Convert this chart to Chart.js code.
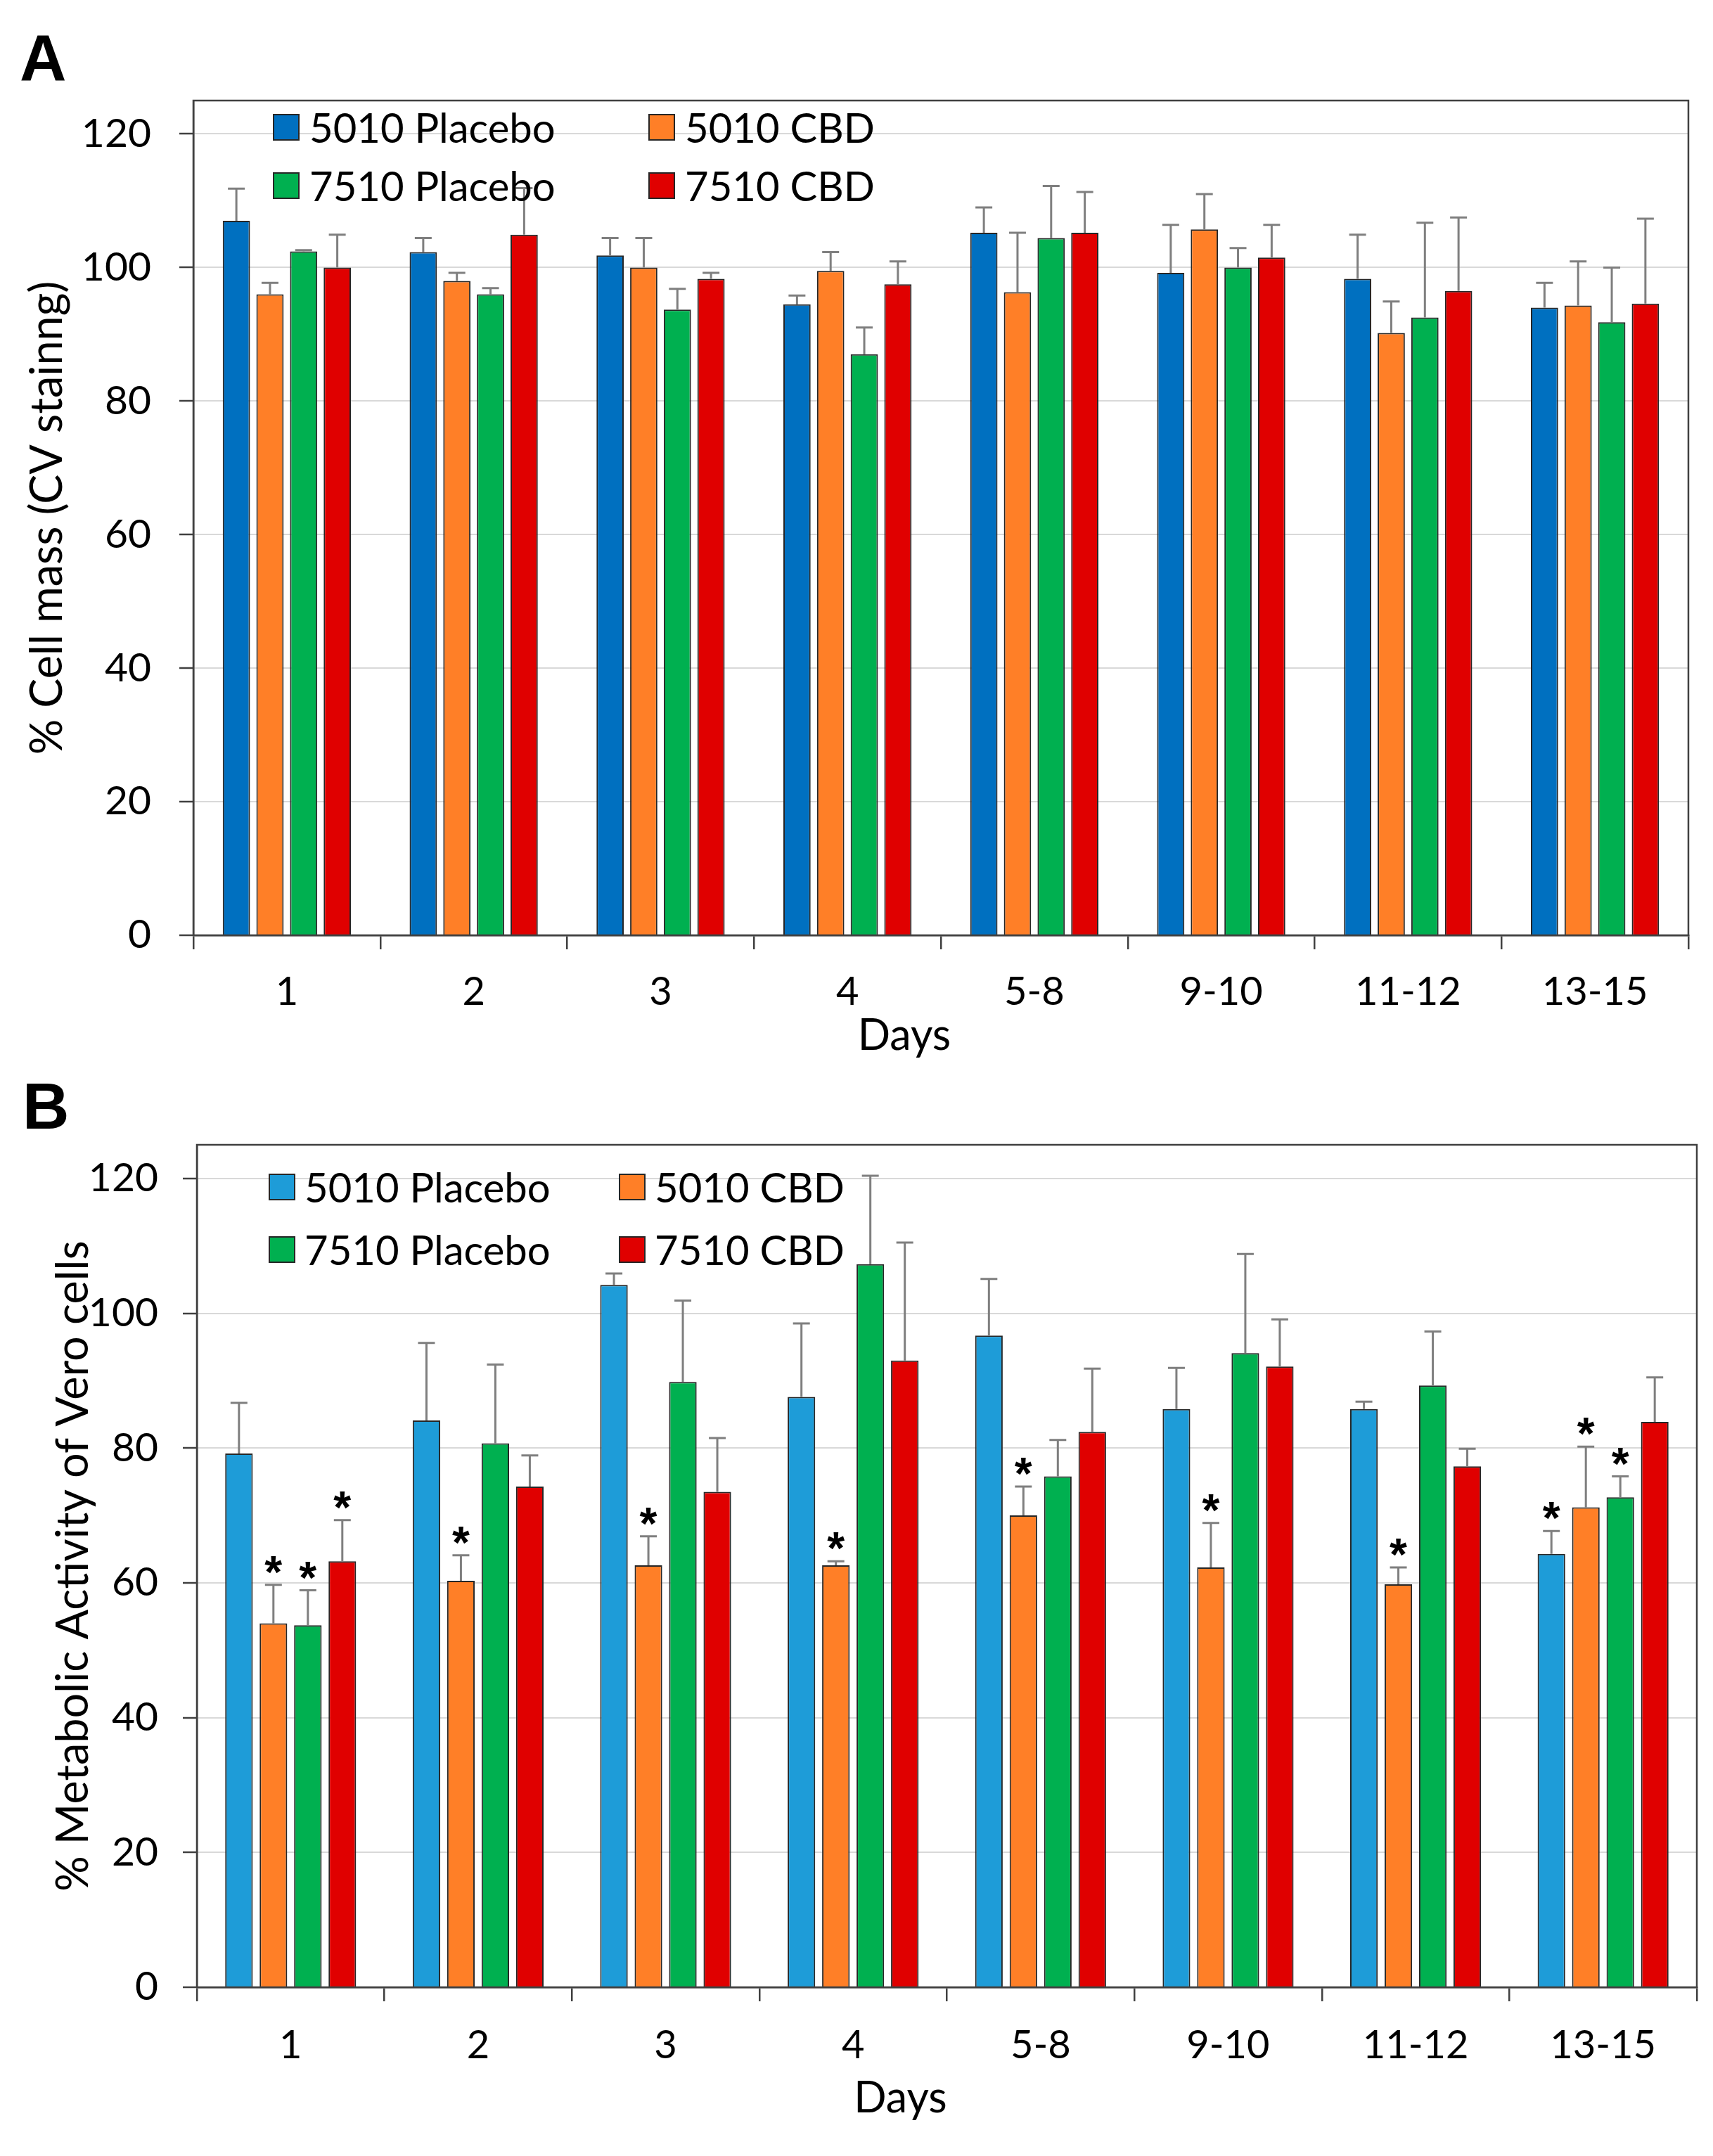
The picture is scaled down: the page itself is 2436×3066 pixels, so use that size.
<!DOCTYPE html>
<html>
<head>
<meta charset="utf-8">
<script src="https://cdn.jsdelivr.net/npm/chart.js@4.4.1/dist/chart.umd.min.js"></script>
<style>
  html, body { margin: 0; padding: 0; background: #fff; }
  body { width: 2436px; height: 3066px; position: relative; overflow: hidden; }
  .panel { position: absolute; left: 0; width: 2436px; }
  #panelA { top: 0; height: 1540px; }
  #panelB { top: 1540px; height: 1526px; }
  .letter { position: absolute; font: bold 92px "Liberation Sans", Arial, sans-serif; line-height: 92px; color: #000; z-index: 2; }
</style>
</head>
<body>
<div class="letter" style="left:28px; top:36px;">A</div>
<div class="letter" style="left:32px; top:1527px;">B</div>
<div class="panel" id="panelA"><canvas id="chartA"></canvas></div>
<div class="panel" id="panelB"><canvas id="chartB"></canvas></div>
<script>
// categories and legend labels
const days = ['1', '2', '3', '4', '5-8', '9-10', '11-12', '13-15'];
const seriesNames = ['5010 Placebo', '5010 CBD', '7510 Placebo', '7510 CBD'];

// panel A: % cell mass (CV staining), mean and upper error
const massPlacebo5010 = [107.0, 102.3, 101.8, 94.5, 105.2, 99.2, 98.3, 94.0];
const massPlacebo5010Err = [4.8, 2.1, 2.6, 1.3, 3.8, 7.2, 6.6, 3.7];
const massCBD5010 = [96.0, 98.0, 100.0, 99.5, 96.3, 105.7, 90.2, 94.3];
const massCBD5010Err = [1.7, 1.2, 4.4, 2.8, 8.9, 5.3, 4.7, 6.6];
const massPlacebo7510 = [102.4, 96.0, 93.7, 87.0, 104.4, 100.0, 92.5, 91.8];
const massPlacebo7510Err = [0.2, 0.9, 3.1, 4.0, 7.8, 2.9, 14.2, 8.2];
const massCBD7510 = [100.0, 104.9, 98.3, 97.5, 105.2, 101.5, 96.5, 94.6];
const massCBD7510Err = [4.9, 7.0, 0.9, 3.4, 6.1, 4.9, 11.0, 12.7];

// panel B: % metabolic activity of Vero cells
const metPlacebo5010 = [79.2, 84.1, 104.2, 87.6, 96.7, 85.8, 85.8, 64.3];
const metPlacebo5010Err = [7.5, 11.5, 1.7, 10.9, 8.4, 6.1, 1.1, 3.4];
const metCBD5010 = [54.0, 60.3, 62.6, 62.6, 70.0, 62.3, 59.8, 71.2];
const metCBD5010Err = [5.7, 3.8, 4.3, 0.6, 4.3, 6.6, 2.5, 9.0];
const metPlacebo7510 = [53.7, 80.7, 89.8, 107.3, 75.8, 94.1, 89.3, 72.7];
const metPlacebo7510Err = [5.2, 11.7, 12.1, 13.1, 5.4, 14.7, 8.0, 3.1];
const metCBD7510 = [63.2, 74.3, 73.5, 93.0, 82.4, 92.1, 77.3, 83.9];
const metCBD7510Err = [6.1, 4.6, 8.0, 17.5, 9.4, 7.0, 2.6, 6.6];

// significance marks (*) in panel B
const sigPlacebo5010 = [0, 0, 0, 0, 0, 0, 0, 1];
const sigCBD5010 = [1, 1, 1, 1, 1, 1, 1, 1];
const sigPlacebo7510 = [1, 0, 0, 0, 0, 0, 0, 1];
const sigCBD7510 = [1, 0, 0, 0, 0, 0, 0, 0];

const yTicks = [0, 20, 40, 60, 80, 100, 120];

Chart.defaults.font.family = 'Lato';
Chart.defaults.color = '#000';

const AXIS = '#404040';
const EDGE = '#262626';

// error bars + asterisks on top of the bars
const errorBars = {
    id: 'errorBars',
    afterDatasetsDraw(chart) {
        const ctx = chart.ctx;
        const y = chart.scales.y;
        ctx.save();
        chart.data.datasets.forEach((ds, i) => {
            const meta = chart.getDatasetMeta(i);
            meta.data.forEach((bar, j) => {
                const top = y.getPixelForValue(ds.data[j] + ds.errors[j]);
                ctx.strokeStyle = '#7F7F7F';
                ctx.lineWidth = 3;
                ctx.beginPath();
                ctx.moveTo(bar.x, bar.y);
                ctx.lineTo(bar.x, top);
                ctx.moveTo(bar.x - 12, top);
                ctx.lineTo(bar.x + 12, top);
                ctx.stroke();
                if (ds.sig && ds.sig[j]) {
                    ctx.fillStyle = '#000';
                    ctx.font = 'bold 64px "Liberation Sans"';
                    ctx.textAlign = 'center';
                    ctx.textBaseline = 'alphabetic';
                    ctx.fillText('*', bar.x, top + 4);
                }
            });
        });
        ctx.restore();
    }
};

// plot frame, the two-column legend inside the plot and the x title
const frameLegend = {
    id: 'frameLegend',
    afterDraw(chart, args, opts) {
        const ctx = chart.ctx;
        const a = chart.chartArea;
        ctx.save();
        ctx.strokeStyle = AXIS;
        ctx.lineWidth = 2.5;
        ctx.strokeRect(a.left, a.top, a.right - a.left, a.bottom - a.top);

        ctx.font = '58px Lato';
        ctx.textBaseline = 'middle';
        ctx.textAlign = 'left';
        chart.data.datasets.forEach((ds, i) => {
            const col = i % 2, row = Math.floor(i / 2);
            const mx = a.left + opts.cols[col];
            const my = a.top + opts.rows[row];
            ctx.fillStyle = ds.backgroundColor;
            ctx.fillRect(mx, my - 18, 36, 36);
            ctx.strokeStyle = EDGE;
            ctx.lineWidth = 2;
            ctx.strokeRect(mx, my - 18, 36, 36);
            ctx.fillStyle = '#000';
            ctx.fillText(ds.label, mx + opts.gap, my + 3);
        });

        // "Days" sits a little left of the plot centre, as in the original figure
        ctx.font = '61px Lato';
        ctx.textAlign = 'center';
        ctx.fillText('Days', (a.left + a.right) / 2 + opts.daysDx, a.bottom + opts.daysDy);
        ctx.restore();
    }
};

function makeChart(id, cfg) {
    const datasets = cfg.values.map((vals, i) => ({
        label: seriesNames[i],
        data: vals,
        errors: cfg.errors[i],
        sig: cfg.sig ? cfg.sig[i] : null,
        backgroundColor: cfg.colors[i],
        borderColor: EDGE,
        borderWidth: 2,
        categoryPercentage: cfg.catPct,
        barPercentage: cfg.barPct
    }));

    return new Chart(document.getElementById(id), {
        type: 'bar',
        data: { labels: days, datasets: datasets },
        options: {
            responsive: true,
            maintainAspectRatio: false,
            devicePixelRatio: 1,
            animation: false,
            layout: { padding: cfg.padding },
            plugins: {
                legend: { display: false },
                tooltip: { enabled: false },
                frameLegend: cfg.legend
            },
            scales: {
                x: {
                    afterFit: s => { s.height = 200; },
                    grid: {
                        display: true, drawOnChartArea: false, offset: true,
                        tickLength: 20, tickColor: AXIS, tickWidth: 2.5,
                        color: AXIS, lineWidth: 2.5
                    },
                    border: { color: AXIS, width: 2.5 },
                    ticks: { padding: cfg.xTickPad, color: '#000', font: { size: 56 } },
                    title: { display: false }
                },
                y: {
                    min: 0,
                    max: 125,
                    afterFit: s => { s.width = cfg.yWidth; },
                    afterBuildTicks: s => { s.ticks = yTicks.map(v => ({ value: v })); },
                    grid: { color: '#D9D9D9', lineWidth: 2, tickLength: 20, tickColor: AXIS, tickWidth: 2.5 },
                    border: { color: AXIS, width: 2.5 },
                    ticks: { padding: cfg.yTickPad, color: '#000', font: { size: 57 } },
                    title: {
                        display: true, text: cfg.yTitle, color: '#000',
                        font: { size: 63 }, padding: { top: cfg.yTitlePad, bottom: 0 }
                    }
                }
            }
        },
        plugins: [errorBars, frameLegend]
    });
}

makeChart('chartA', {
    values: [massPlacebo5010, massCBD5010, massPlacebo7510, massCBD7510],
    errors: [massPlacebo5010Err, massCBD5010Err, massPlacebo7510Err, massCBD7510Err],
    colors: ['#0070C0', '#FF7F27', '#00B050', '#E00000'],
    catPct: 0.72, barPct: 0.81,
    padding: { left: 0, top: 143, right: 35, bottom: 10 },
    yWidth: 275, yTickPad: 40, xTickPad: 27,
    yTitlePad: 30,
    yTitle: '% Cell mass (CV stainng)',
    legend: { cols: [114, 648], rows: [38, 121], gap: 51, daysDx: -52, daysDy: 143 }
});

makeChart('chartB', {
    values: [metPlacebo5010, metCBD5010, metPlacebo7510, metCBD7510],
    errors: [metPlacebo5010Err, metCBD5010Err, metPlacebo7510Err, metCBD7510Err],
    sig: [sigPlacebo5010, sigCBD5010, sigPlacebo7510, sigCBD7510],
    colors: ['#1E9CD8', '#FF7F27', '#00B050', '#E00000'],
    catPct: 0.735, barPct: 0.8,
    padding: { left: 0, top: 88, right: 23, bottom: 40 },
    yWidth: 280, yTickPad: 35, xTickPad: 29,
    yTitlePad: 67,
    yTitle: '% Metabolic Activity of Vero cells',
    legend: { cols: [103, 601], rows: [60, 149], gap: 50, daysDx: -66, daysDy: 158 }
});
</script>
</body>
</html>
